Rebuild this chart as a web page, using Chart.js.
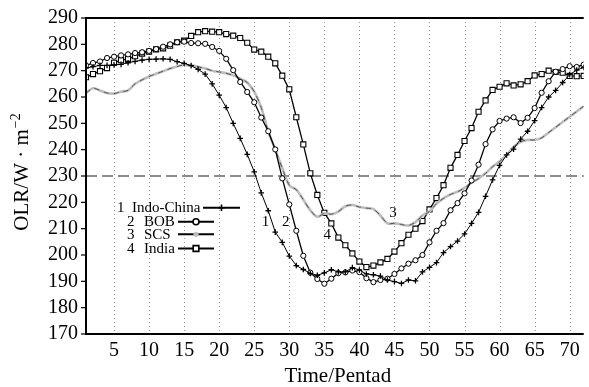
<!DOCTYPE html>
<html>
<head>
<meta charset="utf-8">
<script src="https://cdn.jsdelivr.net/npm/chart.js"></script>
<style>
  html, body { margin: 0; padding: 0; background: #fff; }
</style>
</head>
<body>
<canvas id="chart" width="589" height="387"></canvas>
<script>
  // pentads 1..72
  var pentads = [];
  for (var p = 1; p <= 72; p++) pentads.push(p);

  var xTickValues = [5, 10, 15, 20, 25, 30, 35, 40, 45, 50, 55, 60, 65, 70];
  var yTickMin = 170;
  var yTickMax = 290;
  var thresholdValue = 230;

  var indoChina = [271, 271.5, 272, 272, 272.2, 272.4, 273, 273.5, 274, 274.3, 274.4, 274.5, 274.3, 273.4, 272.8, 271.9, 270.5, 268.7, 265, 260.7,
    256, 250, 244.3, 238.2, 231.6, 223.6, 216.8, 208.7, 204.8, 199.6, 196, 194.5, 193, 192.3, 193.2, 194.4, 193.6, 193.6, 195.2, 194.3,
    192.8, 192.5, 192, 190.5, 189.9, 189.2, 190.5, 190.2, 193.6, 195.3, 197.1, 200.9, 203.2, 205.3, 208, 212, 216.2, 222.3, 228.5, 234,
    238, 240.2, 244, 247, 251, 256, 260, 262.5, 265.5, 268.5, 270.2, 271.2];

  var bob = [272, 272.9, 273.5, 274.8, 275.3, 275.8, 276.2, 276.7, 277, 277.5, 278.2, 279.1, 280, 280.8, 281, 280.5, 280.4, 280.2, 279, 277.5,
    274.5, 270.2, 265.7, 261.9, 258, 252.2, 247, 240.1, 229.1, 219.2, 209.2, 199.7, 193.3, 190.9, 189.1, 191, 193.1, 193.4, 194.1, 193.5,
    191.2, 189.7, 190.5, 191, 192.8, 194.9, 196.7, 198, 200, 204.8, 209.2, 212.1, 217, 219.7, 223.4, 228.3, 234.3, 242.1, 247.7, 250.9,
    251.8, 252.3, 250.1, 252.1, 255.8, 261.6, 266, 269.6, 270.6, 271.7, 271.4, 272.3];

  var scs = [261.5, 263.3, 262.5, 261.5, 261.3, 262, 262.5, 265, 266.5, 267.8, 268.8, 269.8, 270.8, 271.6, 272.2, 272, 271.5, 270.8, 270, 269.5,
    269, 268.2, 267, 265.5, 262, 256, 247, 240, 233, 226.5, 224.8, 221, 217, 214.5, 215.8, 215.5, 216.5, 218.5, 219, 218.2,
    217.8, 217.4, 215, 212, 212, 211.6, 211.2, 212.5, 215, 216.5, 219.5, 221.5, 223, 224, 225.5, 227.5, 229, 231, 233.5, 235.5,
    238, 241, 243, 243.7, 243.7, 244.5, 246.5, 248.5, 250.5, 252.5, 254.5, 256.5];

  var india = [267.5, 268.7, 269.8, 271, 273, 274, 274.5, 275.5, 276.5, 277.2, 278.1, 278.5, 279.5, 280.8, 281.4, 283.2, 284.6, 285, 284.8, 284.6,
    283.9, 283.3, 282.4, 280.6, 278, 277.2, 275.3, 272.8, 268.1, 262.9, 252.3, 242, 231, 222.8, 216, 212, 206.6, 203.7, 200.6, 197.5,
    195.4, 196, 197.2, 198.5, 201.3, 204.5, 207.7, 210, 212.9, 217.3, 221.6, 226.5, 233.1, 238, 243.3, 248.2, 254.4, 258.7, 262.7, 263.9,
    265.2, 264.4, 264.8, 266, 268.2, 268.7, 270, 269.5, 269.2, 268, 267.9, 268];

  var seriesNames = ["Indo-China", "BOB", "SCS", "India"];
  var seriesNumbers = ["1", "2", "3", "4"];

  // curve number labels [pentad, value, text]
  var curveLabels = [[26.6, 212.5, "1"], [29.5, 212.5, "2"], [44.8, 216, "3"], [35.4, 207.5, "4"]];

  function pts(arr) {
    return arr.map(function (v, i) {
      return { x: pentads[i], y: v };
    });
  }

  var serif = "'Liberation Serif', 'Times New Roman', serif";

  var decor = {
    id: "decor",
    beforeDatasetsDraw: function (chart) {
      var ctx = chart.ctx, a = chart.chartArea, xs = chart.scales.x, ys = chart.scales.y;
      ctx.save();
      ctx.strokeStyle = "#9a9a9a";
      ctx.lineWidth = 1;
      ctx.setLineDash([1, 3]);
      xTickValues.forEach(function (v) {
        var x = Math.round(xs.getPixelForValue(v)) + 0.5;
        ctx.beginPath();
        ctx.moveTo(x, a.top);
        ctx.lineTo(x, a.bottom);
        ctx.stroke();
      });
      ctx.strokeStyle = "#666";
      ctx.lineWidth = 1.4;
      ctx.setLineDash([11, 5]);
      var y = ys.getPixelForValue(thresholdValue);
      ctx.beginPath();
      ctx.moveTo(a.left, y);
      ctx.lineTo(a.right, y);
      ctx.stroke();
      ctx.restore();
    },
    afterDatasetsDraw: function (chart) {
      var ctx = chart.ctx, a = chart.chartArea, xs = chart.scales.x, ys = chart.scales.y;
      ctx.save();
      // frame
      ctx.strokeStyle = "#000";
      ctx.lineWidth = 2;
      ctx.beginPath();
      ctx.moveTo(a.right, a.top);
      ctx.lineTo(a.left, a.top);
      ctx.lineTo(a.left, a.bottom);
      ctx.lineTo(a.right, a.bottom);
      ctx.stroke();
      // y tick marks
      ctx.lineWidth = 1.2;
      for (var v = yTickMin; v <= yTickMax; v += 10) {
        var ty = ys.getPixelForValue(v);
        ctx.beginPath();
        ctx.moveTo(a.left - 5, ty);
        ctx.lineTo(a.left, ty);
        ctx.stroke();
      }

      // curve labels
      ctx.fillStyle = "#000";
      ctx.font = "15px " + serif;
      ctx.textAlign = "center";
      ctx.textBaseline = "middle";
      curveLabels.forEach(function (c) {
        ctx.fillText(c[2], xs.getPixelForValue(c[0]), ys.getPixelForValue(c[1]));
      });

      // legend
      var rows = [
        { y: 207.7, numX: 117, nameX: 132, l1: 203, l2: 240 },
        { y: 221.7, numX: 127, nameX: 144, l1: 178, l2: 214 },
        { y: 234.3, numX: 127, nameX: 144, l1: 178, l2: 214 },
        { y: 248.5, numX: 127, nameX: 144, l1: 178, l2: 214 }
      ];
      ctx.textAlign = "left";
      ctx.textBaseline = "alphabetic";
      rows.forEach(function (r, i) {
        ctx.fillStyle = "#000";
        ctx.fillText(seriesNumbers[i], r.numX, r.y + 4.5);
        ctx.fillText(seriesNames[i], r.nameX, r.y + 4.5);
        ctx.strokeStyle = "#000";
        ctx.lineWidth = 2;
        ctx.beginPath();
        ctx.moveTo(r.l1, r.y);
        ctx.lineTo(r.l2, r.y);
        ctx.stroke();
        var ds = chart.data.datasets[i === 3 ? 4 : i];
        var mx = (r.l1 + r.l2) / 2;
        ctx.fillStyle = i === 2 ? "#bdbdbd" : "#fff";
        ctx.strokeStyle = "#000";
        ctx.lineWidth = 1.6;
        Chart.helpers.drawPoint(ctx, {
          pointStyle: i === 2 ? "circle" : ds.pointStyle,
          radius: i === 2 ? 2.6 : ds.pointRadius + 0.4,
          borderWidth: i === 2 ? 0 : 1.6,
          rotation: 0
        }, mx, r.y);
      });

      // axis titles
      ctx.fillStyle = "#000";
      ctx.font = "21px " + serif;
      ctx.textAlign = "center";
      ctx.fillText("Time/Pentad", (a.left + a.right) / 2 + 3, 382);

      var main = "OLR/W \u00b7 m";
      var mainW = ctx.measureText(main).width;
      ctx.font = "14px " + serif;
      var sup = "\u22122";
      var supW = ctx.measureText(sup).width;
      var total = mainW + supW + 1;
      ctx.translate(28, (a.top + a.bottom) / 2 - 4);
      ctx.rotate(-Math.PI / 2);
      ctx.textAlign = "left";
      ctx.font = "21px " + serif;
      ctx.fillText(main, -total / 2, 0);
      ctx.font = "14px " + serif;
      ctx.fillText(sup, -total / 2 + mainW + 1, -8);
      ctx.restore();
    }
  };

  var ctx = document.getElementById("chart").getContext("2d");

  var myChart = new Chart(ctx, {
    type: "line",
    data: {
      datasets: [
        {
          label: "Indo-China",
          data: pts(indoChina),
          borderColor: "#000",
          borderWidth: 1,
          pointStyle: "cross",
          pointRadius: 2.8,
          pointBorderColor: "#000",
          pointBorderWidth: 1.3,
          tension: 0
        },
        {
          label: "BOB",
          data: pts(bob),
          borderColor: "#000",
          borderWidth: 1.3,
          pointStyle: "circle",
          pointRadius: 2.6,
          pointBackgroundColor: "#fff",
          pointBorderColor: "#000",
          pointBorderWidth: 1,
          tension: 0
        },
        {
          label: "SCS",
          data: pts(scs),
          borderColor: "#555",
          borderWidth: 1,
          borderDash: [5, 5],
          pointRadius: 0,
          tension: 0.3
        },
        {
          label: "SCS",
          data: pts(scs),
          borderColor: "#bdbdbd",
          borderWidth: 2.6,
          pointRadius: 0,
          tension: 0.3
        },
        {
          label: "India",
          data: pts(india),
          borderColor: "#000",
          borderWidth: 1.3,
          pointStyle: "rect",
          pointRadius: 3.6,
          pointBackgroundColor: "#fff",
          pointBorderColor: "#000",
          pointBorderWidth: 1.1,
          tension: 0
        }
      ]
    },
    options: {
      responsive: false,
      animation: false,
      devicePixelRatio: 1,
      layout: { padding: { top: 18, right: 0, left: 0, bottom: 0 } },
      plugins: { legend: { display: false }, tooltip: { enabled: false } },
      scales: {
        x: {
          type: "linear",
          min: 1,
          max: 72,
          afterBuildTicks: function (axis) {
            axis.ticks = xTickValues.map(function (v) { return { value: v }; });
          },
          afterFit: function (scale) { scale.height = 53; },
          grid: { display: false, drawTicks: false },
          border: { display: false },
          ticks: { color: "#000", padding: 5, maxRotation: 0, autoSkip: false, font: { family: serif, size: 20 } }
        },
        y: {
          min: yTickMin,
          max: yTickMax,
          afterFit: function (scale) { scale.width = 86; },
          grid: { display: false, drawTicks: true, tickLength: 5 },
          border: { display: false },
          ticks: { color: "#000", stepSize: 10, padding: 3, autoSkip: false, font: { family: serif, size: 20 } }
        }
      }
    },
    plugins: [decor]
  });
</script>
</body>
</html>
